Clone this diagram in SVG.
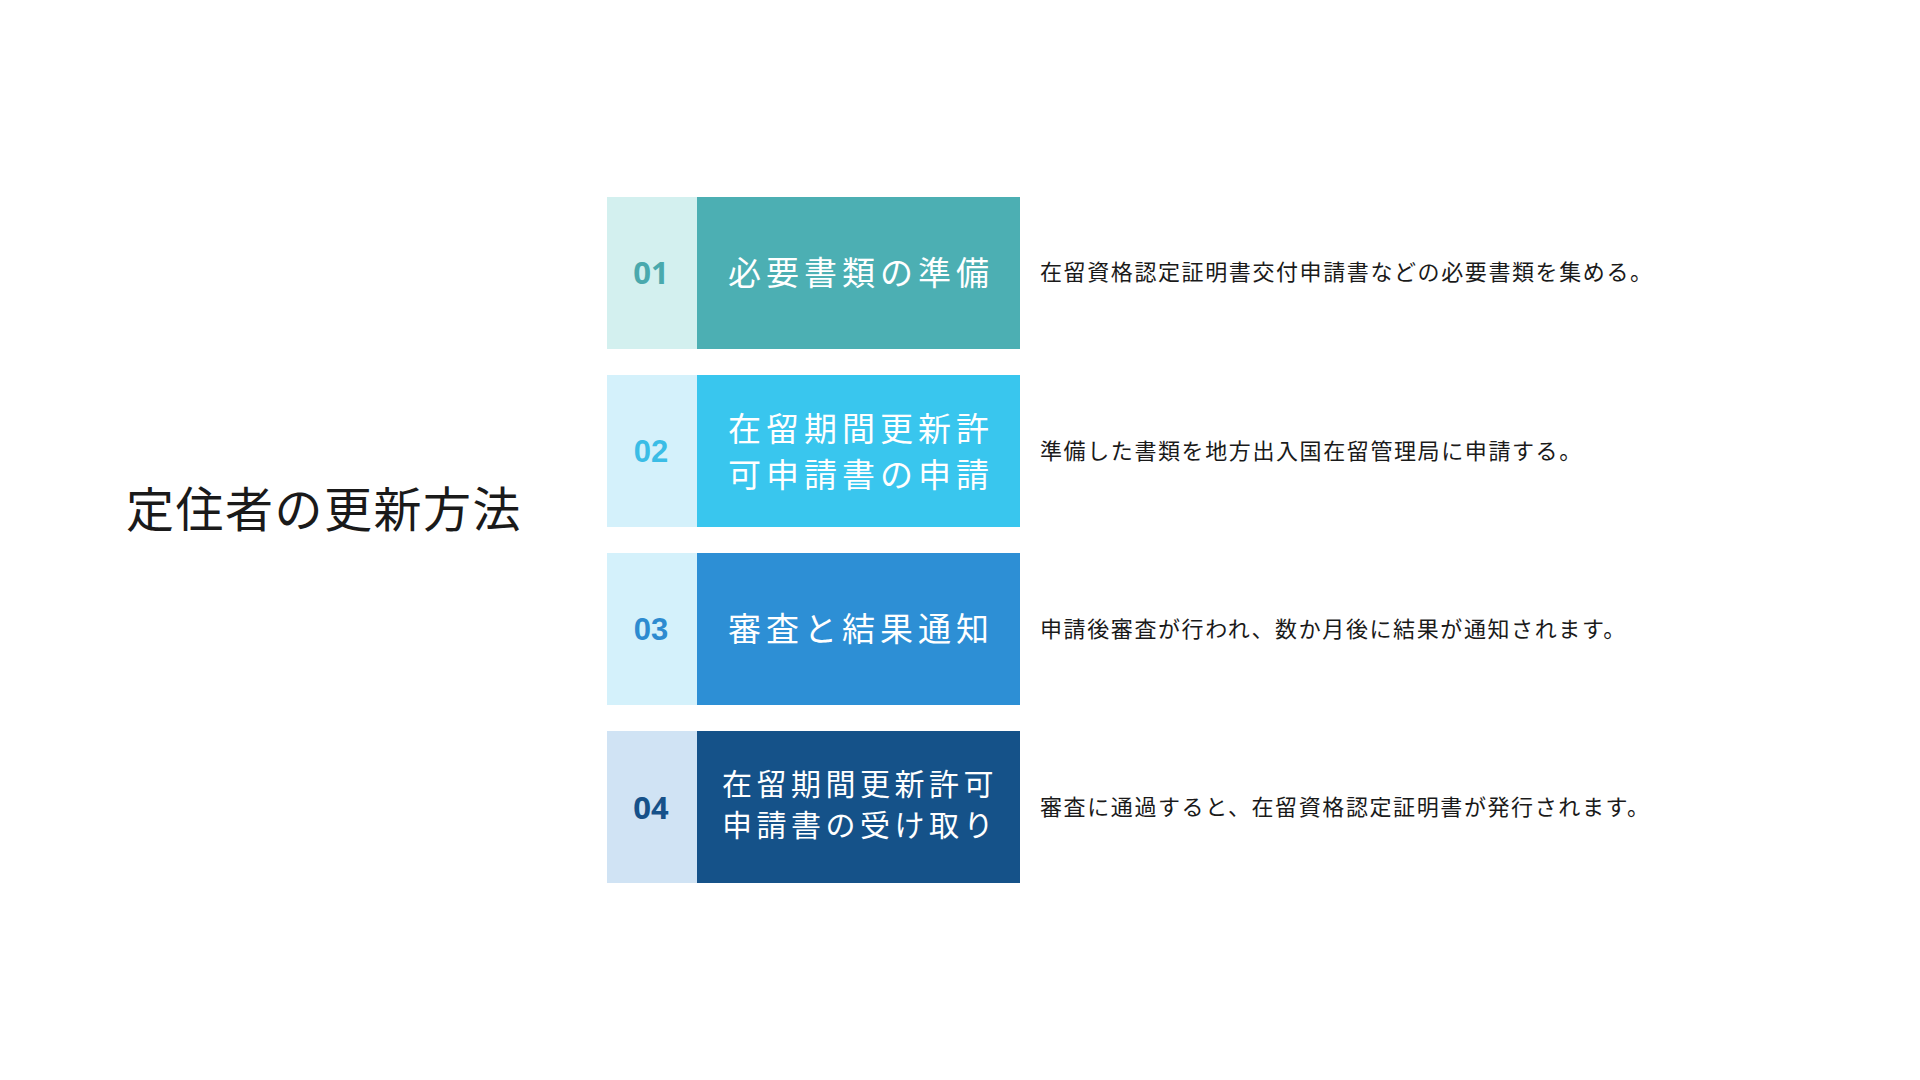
<svg xmlns="http://www.w3.org/2000/svg" width="1920" height="1080" viewBox="0 0 1920 1080">
<style>
.jp{font-family:"Noto Sans CJK JP","Noto Sans",sans-serif;}
.title{font-size:48px;fill:#1a1a1a;letter-spacing:1.5px;}
.step{font-size:33px;fill:#ffffff;letter-spacing:5px;text-anchor:middle;}
.step4{font-size:30px;fill:#ffffff;letter-spacing:4.5px;text-anchor:middle;}
.desc{font-size:22px;fill:#1a1a1a;letter-spacing:1.6px;}
.numA{font-family:"Open Sans","Noto Sans",sans-serif;font-weight:700;font-size:31px;text-anchor:middle;}
.numB{font-family:"Liberation Sans",Arial,sans-serif;font-weight:700;font-size:31px;text-anchor:middle;}
</style>
<rect width="1920" height="1080" fill="#ffffff"/>
<text id="title" class="jp title" x="126" y="527">定住者の更新方法</text>
<g id="step1">
<rect x="607" y="197" width="90" height="152" fill="#d3f0ef"/>
<rect x="697" y="197" width="323" height="152" fill="#4cafb3"/>
<text class="numA" x="651" y="284" fill="#4aa9ad">01</text>
<text class="jp step" x="861" y="285">必要書類の準備</text>
<text class="jp desc" x="1040" y="280">在留資格認定証明書交付申請書などの必要書類を集める。</text>
</g>
<g id="step2">
<rect x="607" y="375" width="90" height="152" fill="#d4f1fb"/>
<rect x="697" y="375" width="323" height="152" fill="#39c6ee"/>
<text class="numB" x="651" y="462" fill="#3bbde6">02</text>
<text class="jp step" x="861" y="441">在留期間更新許</text>
<text class="jp step" x="861" y="487">可申請書の申請</text>
<text class="jp desc" x="1040" y="459">準備した書類を地方出入国在留管理局に申請する。</text>
</g>
<g id="step3">
<rect x="607" y="553" width="90" height="152" fill="#d4f1fb"/>
<rect x="697" y="553" width="323" height="152" fill="#2d8fd5"/>
<text class="numB" x="651" y="640" fill="#2d8bd0">03</text>
<text class="jp step" x="861" y="641">審査と結果通知</text>
<text class="jp desc" x="1040" y="637">申請後審査が行われ、数か月後に結果が通知されます。</text>
</g>
<g id="step4">
<rect x="607" y="731" width="90" height="152" fill="#d0e3f4"/>
<rect x="697" y="731" width="323" height="152" fill="#155289"/>
<text class="numA" x="651" y="819" fill="#165189">04</text>
<text class="jp step4" x="860" y="795">在留期間更新許可</text>
<text class="jp step4" x="860" y="836">申請書の受け取り</text>
<text class="jp desc" x="1040" y="815">審査に通過すると、在留資格認定証明書が発行されます。</text>
</g>
<g id="connectors"></g>
</svg>
